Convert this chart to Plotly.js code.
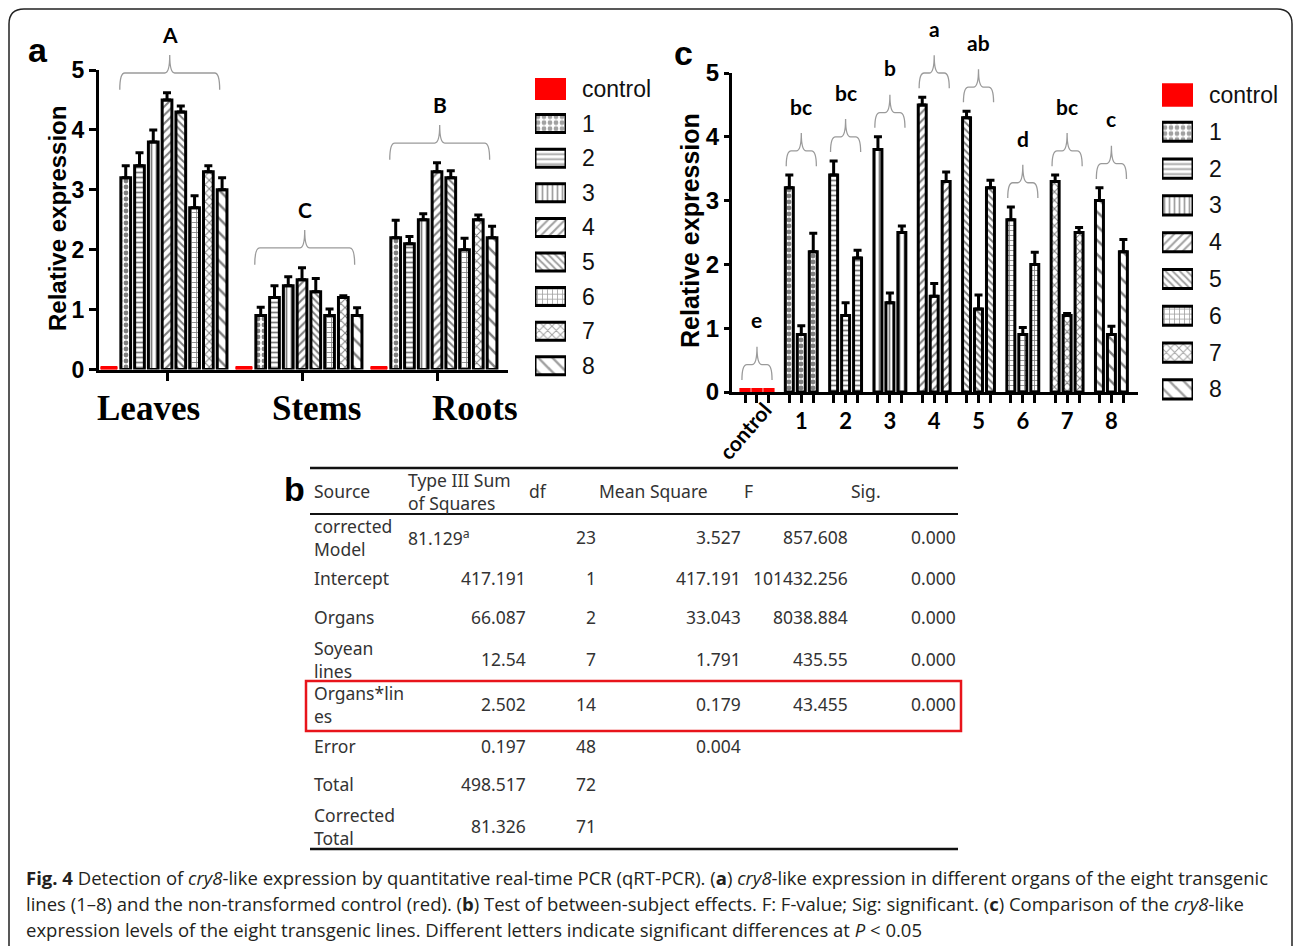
<!DOCTYPE html>
<html><head><meta charset="utf-8">
<script src="https://cdn.plot.ly/plotly-3.0.1.min.js"></script>
<style>html,body{margin:0;padding:0;background:#fff;}#plot{width:1295px;height:946px;}</style>
</head><body><div id="plot"></div>
<script>
// ---------------- DATA ----------------
const organs = ['Leaves', 'Stems', 'Roots'];
const lineNames = ['1', '2', '3', '4', '5', '6', '7', '8'];
const legendNames = ['control', '1', '2', '3', '4', '5', '6', '7', '8'];
const leaves    = [3.2, 3.4, 3.8, 4.5, 4.3, 2.7, 3.3, 3.0];
const leavesErr = [0.2, 0.22, 0.2, 0.12, 0.1, 0.2, 0.1, 0.2];
const stems     = [0.9, 1.2, 1.4, 1.5, 1.3, 0.9, 1.2, 0.9];
const stemsErr  = [0.14, 0.2, 0.15, 0.2, 0.22, 0.11, 0.03, 0.13];
const roots     = [2.2, 2.1, 2.5, 3.3, 3.2, 2.0, 2.5, 2.2];
const rootsErr  = [0.29, 0.12, 0.1, 0.15, 0.12, 0.19, 0.08, 0.19];
const controlVals = [0.05, 0.05, 0.05];
const organLetters = ['A', 'C', 'B'];
const lineLetters = ['e', 'bc', 'bc', 'b', 'a', 'ab', 'd', 'bc', 'c']; // control, 1..8

// table (b)
const tabHeader = ['Source', 'Type III Sum<br>of Squares', 'df', 'Mean Square', 'F', 'Sig.'];
const tabSource = ['corrected<br>Model', 'Intercept', 'Organs', 'Soyean<br>lines', 'Organs*lin<br>es', 'Error', 'Total', 'Corrected<br>Total'];
const tabSS  = ['81.129<sup>a</sup>', '417.191', '66.087', '12.54', '2.502', '0.197', '498.517', '81.326'];
const tabDf  = ['23', '1', '2', '7', '14', '48', '72', '71'];
const tabMS  = ['3.527', '417.191', '33.043', '1.791', '0.179', '0.004', '', ''];
const tabF   = ['857.608', '101432.256', '8038.884', '435.55', '43.455', '', '', ''];
const tabSig = ['0.000', '0.000', '0.000', '0.000', '0.000', '', '', ''];

const caption = [
  '<b>Fig. 4</b> Detection of <i>cry8</i>-like expression by quantitative real-time PCR (qRT-PCR). (<b>a</b>) <i>cry8</i>-like expression in different organs of the eight transgenic',
  'lines (1–8) and the non-transformed control (red). (<b>b</b>) Test of between-subject effects. F: F-value; Sig: significant. (<b>c</b>) Comparison of the <i>cry8</i>-like',
  'expression levels of the eight transgenic lines. Different letters indicate significant differences at <i>P</i> &lt; 0.05'
];

// ---------------- STYLE ----------------
const W = 1295, H = 946;
const px = x => x / W, py = y => 1 - y / H;
const patterns = [
  {shape: '.', size: 6, solidity: 0.5},
  {shape: '-', size: 5, solidity: 0.35},
  {shape: '|', size: 5, solidity: 0.35},
  {shape: '/', size: 6, solidity: 0.35},
  {shape: '\\', size: 5, solidity: 0.4},
  {shape: '+', size: 5, solidity: 0.3},
  {shape: 'x', size: 6, solidity: 0.3},
  {shape: '\\', size: 10, solidity: 0.25}
];
const RED = '#ff0000';
const sansB = {family: 'Liberation Sans, Arial, sans-serif', size: 23, color: '#000', weight: 'bold'};
const letterFont = {family: 'Lato, Open Sans, sans-serif', size: 21, color: '#000', weight: 'bold'};
const tabFont = {family: 'Noto Sans, sans-serif', size: 17.5, color: '#333'};

const axA = {d: [px(99), px(508)], r: [-0.504, 2.526]};
const ayA = {d: [py(369.5), py(70)], r: [0, 5]};
const axC = {d: [px(732), px(1138)], r: [-0.564, 8.6]};
const ayC = {d: [py(392), py(73)], r: [0, 5]};
const toP = (ax, v) => ax.d[0] + (v - ax.r[0]) / (ax.r[1] - ax.r[0]) * (ax.d[1] - ax.d[0]);

const series = lineNames.map((_, k) => ({
  y: [leaves[k], stems[k], roots[k]],
  e: [leavesErr[k], stemsErr[k], rootsErr[k]]
}));

const traces = [];
// ---- panel a ----
traces.push({type: 'bar', xaxis: 'x', yaxis: 'y', x: organs.map((_, i) => i - 0.43), y: controlVals,
  width: 0.12, marker: {color: RED, line: {color: RED, width: 1}}, cliponaxis: false, showlegend: false});
series.forEach((s, k) => {
  traces.push({type: 'bar', xaxis: 'x', yaxis: 'y', x: organs.map((_, i) => i + (k - 3) * 0.102), y: s.y,
    width: 0.072, cliponaxis: false, showlegend: false,
    marker: {color: '#fff', line: {color: '#000', width: 3},
      pattern: Object.assign({fgcolor: '#000', bgcolor: '#fff', fillmode: 'overlay'}, patterns[k])},
    error_y: {type: 'data', array: s.e, arrayminus: s.e.map(() => 0), symmetric: false, color: '#000', thickness: 3, width: 4}});
});
// ---- panel c ----
const offC = [-0.27, 0, 0.27];
traces.push({type: 'bar', xaxis: 'x2', yaxis: 'y2', x: offC.map(o => o), y: controlVals,
  width: 0.22, marker: {color: RED, line: {color: RED, width: 1.5}}, cliponaxis: false, showlegend: false});
series.forEach((s, k) => {
  traces.push({type: 'bar', xaxis: 'x2', yaxis: 'y2', x: offC.map(o => k + 1 + o), y: s.y,
    width: 0.18, cliponaxis: false, showlegend: false,
    marker: {color: '#fff', line: {color: '#000', width: 3},
      pattern: Object.assign({fgcolor: '#000', bgcolor: '#fff', fillmode: 'overlay'}, patterns[k])},
    error_y: {type: 'data', array: s.e, arrayminus: s.e.map(() => 0), symmetric: false, color: '#000', thickness: 3, width: 4}});
});
// ---- legend icons (as horizontal bars) ----
function legendTrace(xa, ya) {
  return {type: 'bar', orientation: 'h', xaxis: xa, yaxis: ya, cliponaxis: false, showlegend: false,
    y: legendNames.map((_, i) => i), x: legendNames.map(() => 1),
    width: legendNames.map((_, i) => i === 0 ? 0.64 : 0.52),
    marker: {
      color: legendNames.map((_, i) => i === 0 ? RED : '#fff'),
      line: {color: legendNames.map((_, i) => i === 0 ? RED : '#000'), width: legendNames.map((_, i) => i === 0 ? 0 : 3)},
      pattern: {
        shape: legendNames.map((_, i) => i === 0 ? '' : patterns[i - 1].shape),
        size: legendNames.map((_, i) => i === 0 ? 8 : patterns[i - 1].size),
        solidity: legendNames.map((_, i) => i === 0 ? 0.3 : patterns[i - 1].solidity),
        fgcolor: '#000', bgcolor: legendNames.map((_, i) => i === 0 ? RED : '#fff'), fillmode: 'overlay'
      }
    }};
}
traces.push(legendTrace('x3', 'y3'));
traces.push(legendTrace('x4', 'y4'));

// ---------------- LAYOUT ----------------
const hidden = {visible: false, showgrid: false, zeroline: false, fixedrange: true};
const yAxisBase = {range: [0, 5], tickvals: [0, 1, 2, 3, 4, 5], ticks: 'outside', ticklen: 7, tickwidth: 3,
  tickcolor: '#000', showline: true, linewidth: 3, linecolor: '#000', showgrid: false, zeroline: false,
  tickfont: sansB, fixedrange: true};
const xAxisBase = {ticks: 'outside', ticklen: 8, tickwidth: 3, tickcolor: '#000', showline: true, linewidth: 3,
  linecolor: '#000', showgrid: false, zeroline: false, layer: 'below traces', fixedrange: true};

const tickValsC = [], tickTextC = [];
legendNames.forEach((n, g) => offC.forEach(o => {
  tickValsC.push(g + o);
  tickTextC.push(o === 0 && g > 0 ? n : ' ');
}));

const layout = {
  width: W, height: H, margin: {l: 0, r: 0, t: 0, b: 0}, paper_bgcolor: '#fff', plot_bgcolor: 'rgba(0,0,0,0)',
  barmode: 'overlay', hovermode: false, showlegend: false,
  xaxis: Object.assign({}, xAxisBase, {domain: axA.d, range: axA.r, anchor: 'y', tickvals: [0, 1, 2], ticktext: [' ', ' ', ' ']}),
  yaxis: Object.assign({}, yAxisBase, {domain: ayA.d, anchor: 'x'}),
  xaxis2: Object.assign({}, xAxisBase, {domain: axC.d, range: axC.r, anchor: 'y2', tickvals: tickValsC, ticktext: tickTextC,
    tickfont: {family: 'Lato, Open Sans, sans-serif', size: 22, color: '#000', weight: 'bold'}, tickangle: 0}),
  yaxis2: Object.assign({}, yAxisBase, {domain: ayC.d, anchor: 'x2', ticklen: 5, tickfont: Object.assign({}, sansB, {size: 24})}),
  xaxis3: Object.assign({}, hidden, {domain: [px(535), px(566)], range: [0, 1], anchor: 'y3'}),
  yaxis3: Object.assign({}, hidden, {domain: [py(89 + 34.6 * 8 + 17.3), py(89 - 17.3)], range: [8.5, -0.5], anchor: 'x3'}),
  xaxis4: Object.assign({}, hidden, {domain: [px(1162), px(1193)], range: [0, 1], anchor: 'y4'}),
  yaxis4: Object.assign({}, hidden, {domain: [py(95 + 36.8 * 8 + 18.4), py(95 - 18.4)], range: [8.5, -0.5], anchor: 'x4'}),
  annotations: [], shapes: []
};
const A = layout.annotations, S = layout.shapes;
const ann = o => A.push(Object.assign({showarrow: false, xanchor: 'center', yanchor: 'middle'}, o));

// frame
S.push({type: 'path', xref: 'paper', yref: 'paper', line: {color: '#222', width: 1.5},
  path: `M ${px(9)},${py(946)} L ${px(9)},${py(24)} Q ${px(9)},${py(9)} ${px(24)},${py(9)} L ${px(1277)},${py(9)} Q ${px(1292)},${py(9)} ${px(1292)},${py(24)} L ${px(1292)},${py(946)}`});

// brace helper (paper coordinates)
function brace(ax, ay, xc, half, yb, ym, yt) {
  const x0 = toP(ax, xc - half), x1 = toP(ax, xc + half), xm = toP(ax, xc);
  const b = toP(ay, yb), m = toP(ay, ym), t = toP(ay, yt);
  const r = 5 / W;
  S.push({type: 'path', xref: 'paper', yref: 'paper', line: {color: '#9a9a9a', width: 1.3},
    path: `M ${x0},${b} Q ${x0},${m} ${x0 + r},${m} L ${xm - r},${m} Q ${xm},${m} ${xm},${t} Q ${xm},${m} ${xm + r},${m} L ${x1 - r},${m} Q ${x1},${m} ${x1},${b}`});
}

// panel a braces + letters
organs.forEach((o, i) => {
  const mx = Math.max(...series.map(s => s.y[i] + s.e[i]));
  const b = mx + 0.05;
  brace(axA, ayA, i + 0.02, 0.37, b, b + 0.28, b + 0.58);
  ann({xref: 'paper', yref: 'paper', x: toP(axA, i + 0.02), y: toP(ayA, b + 0.92), text: organLetters[i], font: letterFont});
});
// organ labels
const organShift = [-19, 14, 38];
organs.forEach((o, i) => ann({xref: 'x', yref: 'paper', x: i, y: py(408), xshift: organShift[i], text: o,
  font: {family: 'Liberation Serif, Times New Roman, serif', size: 35, color: '#000', weight: 'bold'}}));

// panel c braces + letters
legendNames.forEach((n, g) => {
  const mx = g === 0 ? Math.max(...controlVals) : Math.max(...series[g - 1].y.map((v, j) => v + series[g - 1].e[j]));
  brace(axC, ayC, g, 0.34, mx + 0.14, mx + 0.38, mx + 0.66);
  ann({xref: 'paper', yref: 'paper', x: toP(axC, g), y: toP(ayC, mx + 1.08), text: lineLetters[g], font: letterFont});
});
// rotated "control" label
ann({xref: 'x2', yref: 'paper', x: 0, y: py(431), xshift: -12, text: legendNames[0], textangle: -49,
  font: {family: 'Lato, Open Sans, sans-serif', size: 21, color: '#000', weight: 'bold'}});

// axis titles
ann({xref: 'paper', yref: 'paper', x: px(58), y: py(218), text: 'Relative expression', textangle: -90,
  font: Object.assign({}, sansB, {size: 24})});
ann({xref: 'paper', yref: 'paper', x: px(690), y: py(231), text: 'Relative expression', textangle: -90,
  font: Object.assign({}, sansB, {size: 25})});

// panel labels
const panelFont = {family: 'Liberation Sans, Arial, sans-serif', size: 34, color: '#000', weight: 'bold'};
ann({xref: 'paper', yref: 'paper', x: px(38), y: py(50), text: 'a', font: panelFont});
ann({xref: 'paper', yref: 'paper', x: px(683), y: py(53), text: 'c', font: panelFont});
ann({xref: 'paper', yref: 'paper', x: px(294), y: py(489), text: 'b', font: panelFont});

// legend text
const legFont = {family: 'Liberation Sans, Arial, sans-serif', size: 23, color: '#111'};
legendNames.forEach((n, i) => {
  ann({xref: 'paper', yref: 'y3', x: px(580), y: i, text: n, xanchor: 'left', font: legFont});
  ann({xref: 'paper', yref: 'y4', x: px(1207), y: i, text: n, xanchor: 'left', font: legFont});
});

// table lines
S.push({type: 'line', xref: 'paper', yref: 'paper', x0: px(310), x1: px(958), y0: py(468), y1: py(468), line: {color: '#111', width: 2.5}});
S.push({type: 'line', xref: 'paper', yref: 'paper', x0: px(310), x1: px(958), y0: py(514), y1: py(514), line: {color: '#111', width: 2}});
S.push({type: 'line', xref: 'paper', yref: 'paper', x0: px(310), x1: px(958), y0: py(849), y1: py(849), line: {color: '#111', width: 2.5}});
S.push({type: 'rect', xref: 'paper', yref: 'paper', x0: px(306), x1: px(961), y0: py(681), y1: py(731), line: {color: '#e8141b', width: 2.5}});

// table header
const hdrX = [312, 406, 527, 597, 742, 849];
tabHeader.forEach((h, j) => ann({xref: 'paper', yref: 'paper', x: px(hdrX[j]), y: py(491), text: h,
  xanchor: 'left', align: 'left', font: tabFont}));
// table body
const rowY = [537, 578, 617, 659, 704, 746, 784, 826];
const colRight = [528, 598, 743, 850, 958];
tabSource.forEach((s, r) => {
  ann({xref: 'paper', yref: 'paper', x: px(312), y: py(rowY[r]), text: s, xanchor: 'left', align: 'left', font: tabFont});
  [tabSS, tabDf, tabMS, tabF, tabSig].forEach((col, j) => {
    if (!col[r]) return;
    const leftSS = (j === 0 && r === 0);
    ann({xref: 'paper', yref: 'paper', x: px(leftSS ? 406 : colRight[j]), y: py(rowY[r]), text: col[r],
      xanchor: leftSS ? 'left' : 'right', font: tabFont});
  });
});

// caption
const capY = [877, 903, 929];
caption.forEach((c, i) => ann({xref: 'paper', yref: 'paper', x: px(24), y: py(capY[i]), text: c,
  xanchor: 'left', align: 'left', font: {family: 'Open Sans, sans-serif', size: 18.5, color: '#231f20'}}));

Plotly.newPlot('plot', traces, layout, {displayModeBar: false, staticPlot: true});
</script>
</body></html>
